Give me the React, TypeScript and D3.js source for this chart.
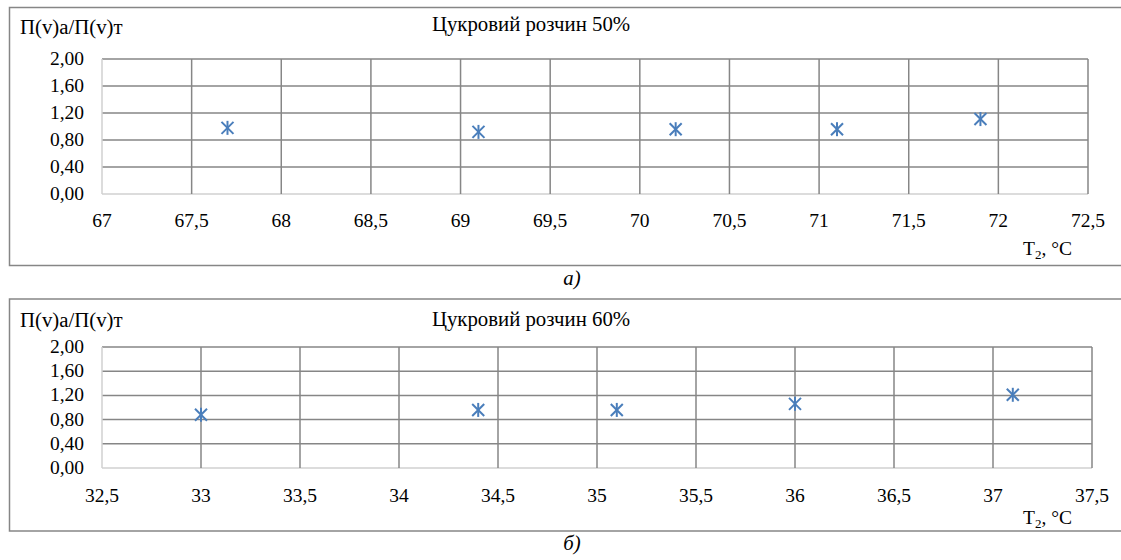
import React from "react";
import * as d3 from "d3";

const yTicks = [0, 0.4, 0.8, 1.2, 1.6, 2.0];

const xTicks50 = [67, 67.5, 68, 68.5, 69, 69.5, 70, 70.5, 71, 71.5, 72, 72.5];
const x50 = [67.7, 69.1, 70.2, 71.1, 71.9];
const y50 = [0.98, 0.92, 0.96, 0.96, 1.11];

const xTicks60 = [32.5, 33, 33.5, 34, 34.5, 35, 35.5, 36, 36.5, 37, 37.5];
const x60 = [33, 34.4, 35.1, 36, 37.1];
const y60 = [0.88, 0.96, 0.96, 1.06, 1.21];

const yLabel = "П(v)а/П(v)т";
const titles = ["Цукровий розчин 50%", "Цукровий розчин 60%"];
const captions = ["а)", "б)"];

const FONT = "'Liberation Serif', 'Times New Roman', serif";
const FS = 19.5;
const FS_TITLE = 20.8;
const MARK = "#4a7ebb";
const GRID = "#868686";
const AXIS = "#d0d0d0";

const fmtY = (v: number) => v.toFixed(2).replace(".", ",");
const fmtX = (v: number) => String(v).replace(".", ",");

function T({ x, y, anchor = "start", children, italic = false, size = FS }: any) {
  return (
    <text
      x={x}
      y={y}
      textAnchor={anchor}
      fontFamily={FONT}
      fontSize={size}
      fontStyle={italic ? "italic" : "normal"}
      fill="#000"
    >
      {children}
    </text>
  );
}

function Star({ cx, cy }: { cx: number; cy: number }) {
  const r = 7;
  const d = 6;
  return (
    <g stroke={MARK} strokeWidth={2}>
      <line x1={cx} y1={cy - r} x2={cx} y2={cy + r} />
      <line x1={cx - d} y1={cy - d} x2={cx + d} y2={cy + d} />
      <line x1={cx - d} y1={cy + d} x2={cx + d} y2={cy - d} />
    </g>
  );
}

function Chart({ box, plot, xTicks, xs, ys, title, cap, labelY, titleY, tickY, xTitleY, capY }: any) {
  const x = d3.scaleLinear().domain([xTicks[0], xTicks[xTicks.length - 1]]).range([plot.left, plot.right]);
  const y = d3.scaleLinear().domain([0, 2]).range([plot.bottom, plot.top]);
  return (
    <g>
      <rect x={box.x} y={box.y} width={box.w} height={box.h} fill="#fff" stroke={GRID} strokeWidth={1.5} />
      {yTicks.map((t) => (
        <line key={"gy" + t} x1={plot.left} x2={plot.right} y1={y(t)} y2={y(t)} stroke={t === 0 ? AXIS : GRID} strokeWidth={1.5} />
      ))}
      {xTicks.map((t: number, i: number) => (
        <line key={"gx" + t} x1={x(t)} x2={x(t)} y1={plot.top} y2={plot.bottom} stroke={i === 0 ? AXIS : GRID} strokeWidth={1.5} />
      ))}
      {yTicks.map((t) => (
        <T key={"ly" + t} x={84} y={y(t) + 6} anchor="end">{fmtY(t)}</T>
      ))}
      {xTicks.map((t: number) => (
        <T key={"lx" + t} x={x(t)} y={tickY} anchor="middle">{fmtX(t)}</T>
      ))}
      {xs.map((v: number, i: number) => (
        <Star key={"p" + i} cx={x(v)} cy={y(ys[i])} />
      ))}
      <T x={20} y={labelY} size={FS_TITLE}>{yLabel}</T>
      <T x={531} y={titleY} anchor="middle" size={FS_TITLE}>{title}</T>
      <text x={1023} y={xTitleY} fontFamily={FONT} fontSize={FS}>
        T<tspan fontSize={13} dy={4}>2</tspan>
        <tspan dy={-4}>, °C</tspan>
      </text>
      <T x={572} y={capY} anchor="middle" italic size={FS_TITLE}>{cap}</T>
    </g>
  );
}

export default function App() {
  return (
    <svg
      width={1121}
      height={560}
      style={{ position: "absolute", left: 0, top: 0, background: "#fff" }}
    >
      <rect x={0} y={0} width={1121} height={560} fill="#fff" />
      <Chart
        box={{ x: 9.5, y: 7.5, w: 1130, h: 258 }}
        plot={{ left: 102, right: 1088, top: 59, bottom: 194 }}
        xTicks={xTicks50}
        xs={x50}
        ys={y50}
        title={titles[0]}
        cap={captions[0]}
        labelY={34}
        titleY={31}
        tickY={227}
        xTitleY={255}
        capY={285}
      />
      <Chart
        box={{ x: 9.5, y: 299, w: 1130, h: 232 }}
        plot={{ left: 102, right: 1092, top: 347, bottom: 468 }}
        xTicks={xTicks60}
        xs={x60}
        ys={y60}
        title={titles[1]}
        cap={captions[1]}
        labelY={327}
        titleY={326}
        tickY={502}
        xTitleY={524}
        capY={550}
      />
    </svg>
  );
}
